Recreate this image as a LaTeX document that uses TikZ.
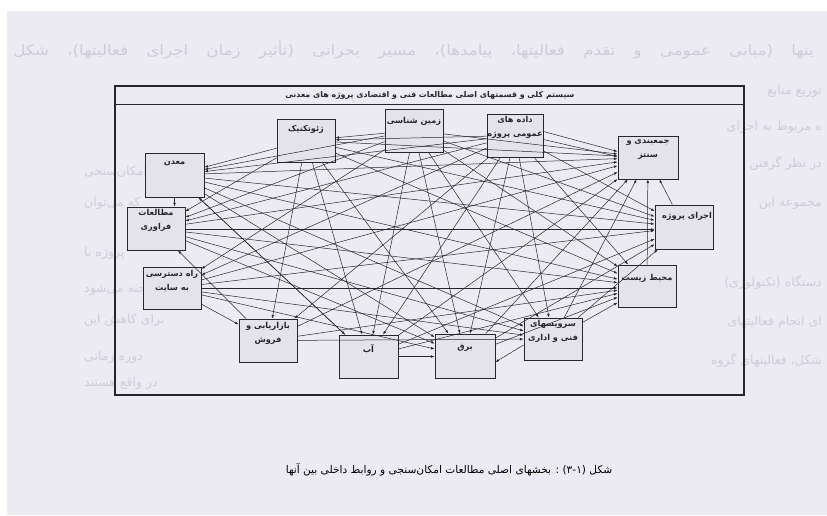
\documentclass[tikz,border=0pt]{standalone}
\usepackage{fontspec}
\usetikzlibrary{arrows.meta}
\TeXXeTstate=1
\newfontfamily\fa[Script=Arabic]{DejaVu Sans}
\newfontfamily\faL{DejaVu Sans}
\newcommand{\rl}[1]{\beginR #1\endR}
\definecolor{paper}{RGB}{236,235,243}
\definecolor{boxfill}{RGB}{228,227,235}
\definecolor{ink}{RGB}{38,38,44}
\definecolor{ghost}{RGB}{206,204,217}
\begin{document}
\begin{tikzpicture}[x=1pt,y=-1pt,
  frame/.style={draw=ink,line width=1.1pt,inner sep=0pt},
  box/.style={draw=ink,line width=0.9pt,fill=boxfill,inner sep=0pt,
    minimum width=58pt,minimum height=43pt},
  lbl/.style={anchor=north,align=center,inner sep=0pt,text=ink,
    font=\fa\bfseries\fontsize{8.2}{14}\selectfont},
  link/.style={draw=ink,line width=0.5pt,
    -{Latex[length=3.6pt,width=2.6pt]}},
  figcap/.style={text=black,font=\fa\fontsize{10.6}{12}\selectfont},
  pagetext/.style={text=ghost,inner sep=0pt,font=\fa\fontsize{12.5}{14}\selectfont},
]
\useasboundingbox (0,0) rectangle (827,515);
\fill[white] (0,0) rectangle (827,515);
\fill[paper] (7,11) rectangle (827,515);

% running text of the page, faint behind the figure
\begin{scope}[xscale=1.15]
\node[pagetext,anchor=east,transform shape,font=\fa\fontsize{14.5}{16}\selectfont]
  (p1) at (814/1.15,50)
  {\parbox{696pt}{\parfillskip=0pt\parindent=0pt
   \rl{ینها (مبانی عمومی و تقدم فعالیتها، پیامدها)، مسیر بحرانی (تأثیر زمان اجرای فعالیتها)، شکل}}};
\end{scope}
\node[pagetext,anchor=east] (p2) at (822,91) {\rl{توزیع منابع}};
\node[pagetext,anchor=east] (p3) at (822,127) {\rl{ه مربوط به اجرای}};
\node[pagetext,anchor=east] (p4) at (822,163) {\rl{در نظر گرفتن}};
\node[pagetext,anchor=east] (p5) at (822,203) {\rl{مجموعه این}};
\node[pagetext,anchor=east] (p6) at (822,282) {\rl{دستگاه (تکنولوژی)}};
\node[pagetext,anchor=east] (p7) at (822,322) {\rl{ای انجام فعالیتهای}};
\node[pagetext,anchor=east] (p8) at (822,360) {\rl{شکل، فعالیتهای گروه}};
\node[pagetext,anchor=west] (q1) at (84,172) {\rl{امکان‌سنجی}};
\node[pagetext,anchor=west] (q2) at (84,203) {\rl{که می‌توان}};
\node[pagetext,anchor=west] (q3) at (84,253) {\rl{پروژه با}};
\node[pagetext,anchor=west] (q4) at (84,290) {\rl{حنه می‌شود}};
\node[pagetext,anchor=west] (q5) at (84,320) {\rl{برای کاهش این}};
\node[pagetext,anchor=west] (q6) at (84,357) {\rl{دوره زمانی}};
\node[pagetext,anchor=west] (q7) at (84,383) {\rl{در واقع هستند}};

% outer frame with title bar
\node[frame,minimum width=629pt,minimum height=309pt] (fr) at (429.5,240.5) {};
\coordinate (tl) at (115,104.5);
\coordinate (tr) at (744,104.5);
\draw[ink,line width=1pt] (tl) -- (tr);
\node[lbl,anchor=center,font=\fa\bfseries\fontsize{7.9}{9}\selectfont] (title) at (430,95)
  {\rl{سیستم کلی و قسمتهای اصلی مطالعات فنی و اقتصادی پروژه های معدنی}};

% study boxes
\node[box] (G) at (306,140.5) {};
\node[box] (Z) at (414,130.5) {};
\node[box,minimum width=56pt] (D) at (515,135.5) {};
\node[box,minimum width=60pt] (J) at (648,157.5) {};
\node[box,minimum height=44pt] (E) at (684,227) {};
\node[box,minimum height=42pt] (M) at (647,286) {};
\node[box,minimum height=42pt] (S) at (553,339) {};
\node[box,minimum width=60pt,minimum height=44pt] (B) at (465,356) {};
\node[box,minimum width=59pt] (A) at (368.5,356.5) {};
\node[box] (F) at (268,340.5) {};
\node[box,minimum height=42pt] (R) at (172,288) {};
\node[box] (P) at (156,228.5) {};
\node[box,minimum width=59pt,minimum height=44pt] (N) at (174.5,175) {};

% box captions
\node[lbl] (Gt) at ([yshift=-7pt]G.north) {\rl{ژئوتکنیک}};
\node[lbl] (Zt) at ([yshift=-9pt]Z.north) {\rl{زمین شناسی}};
\node[lbl] (Dt) at ([yshift=-3pt]D.north) {\rl{داده های}\\\rl{عمومی پروژه}};
\node[lbl] (Jt) at ([yshift=-4pt]J.north) {\rl{جمعبندی و}\\\rl{سنتز}};
\node[lbl] (Et) at ([yshift=-8pt,xshift=3pt]E.north) {\rl{اجرای پروژه}};
\node[lbl] (Mt) at ([yshift=-10pt]M.north) {\rl{محیط زیست}};
\node[lbl] (St) at ([yshift=-3pt]S.north) {\rl{سرویسهای}\\\rl{فنی و اداری}};
\node[lbl] (Bt) at ([yshift=-11pt]B.north) {\rl{برق}};
\node[lbl] (At) at ([yshift=-10pt]A.north) {\rl{آب}};
\node[lbl] (Ft) at ([yshift=-4pt]F.north) {\rl{بازاریابی و}\\\rl{فروش}};
\node[lbl] (Rt) at ([yshift=-4pt]R.north) {\rl{راه دسترسی}\\\rl{به سایت}};
\node[lbl] (Pt) at ([yshift=-3pt]P.north) {\rl{مطالعات}\\\rl{فراوری}};
\node[lbl] (Nt) at ([yshift=-8pt]N.north) {\rl{معدن}};

% relations between the studies
\foreach \a/\b in {
  D/N, D/P, D/R, D/F, D/A, D/B, D/S, D/M, D/E, D/G,
  Z/G, Z/N, Z/P, Z/J, Z/E, Z/M, Z/A, Z/B, Z/S, Z/R,
  G/N, G/P, G/J, G/E, G/A, G/B, G/M, G/F,
  N/J, N/E, N/M, N/S, N/B, N/A,
  P/J, P/M, P/B, P/S,
  R/F, R/E, R/B, R/J, R/S,
  F/J, F/M, F/P, F/S,
  A/J, A/E, A/M, A/N,
  B/J, B/M, B/E,
  S/J, S/M, S/E,
  M/J, E/J}
  \draw[link] (\a) -- (\b);
\draw[link] (N.south) -- (P.north -| N.south);
\draw[link] ([yshift=4pt]D.east) -- ([yshift=6pt]J.west);
\draw[link] ([yshift=-4pt]D.east) -- ([yshift=1pt]J.west);
\draw[link] ([yshift=-1pt]P.east) -- ([yshift=-1pt]P.east -| E.west);
\draw[link] (R.east) -- (R.east -| M.west);
\draw[link] (A.east) -- (A.east -| B.west);
\draw[link] ([yshift=-6pt]S.west) -- ([yshift=-6pt]B.east);

% figure caption
\node[figcap] (figc) at (449,470)
  {\beginR شکل \beginL{\faL(}\mbox{۳}{\faL-}\mbox{۱}{\faL)}\endL{} : بخشهای اصلی مطالعات امکان‌سنجی و روابط داخلی بین آنها\endR};
\end{tikzpicture}
\end{document}
